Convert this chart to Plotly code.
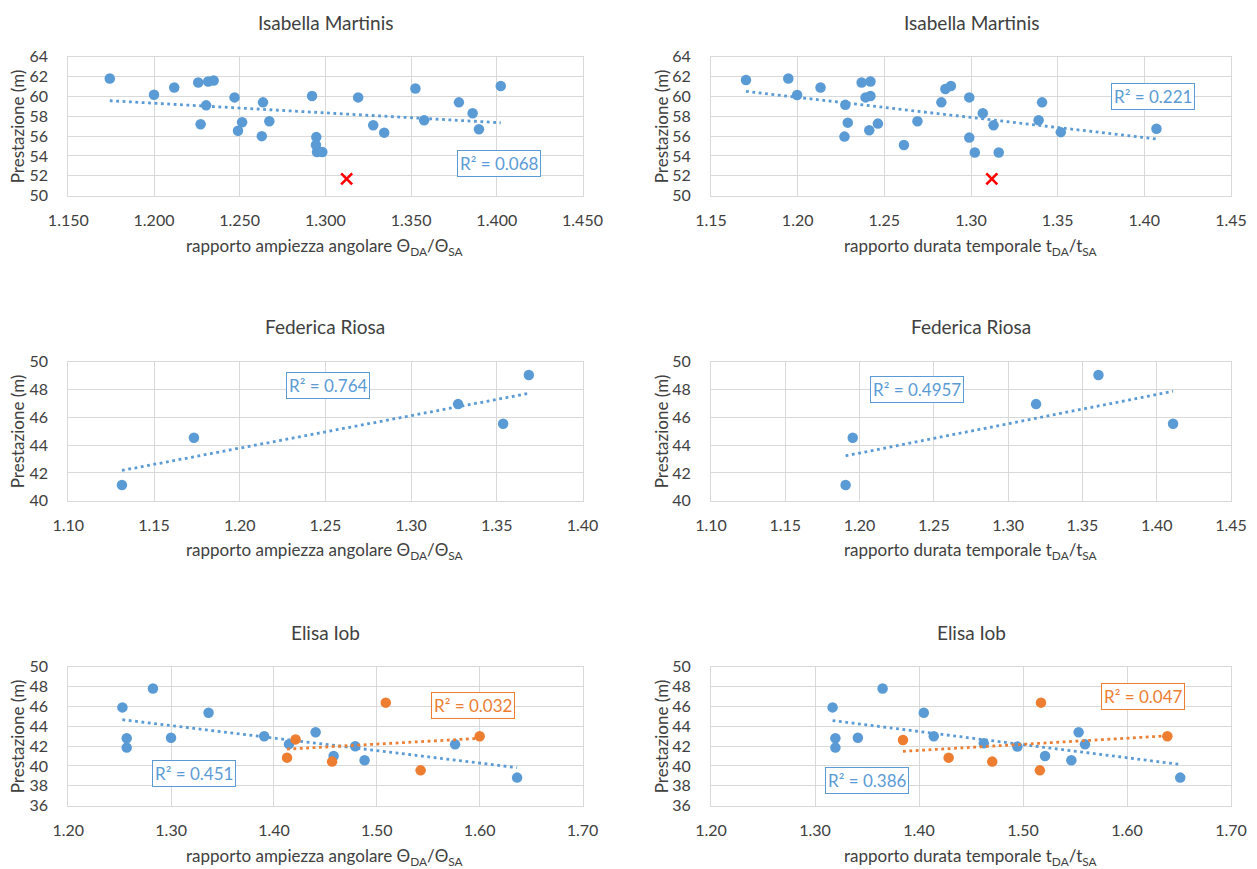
import numpy as np
import plotly.graph_objects as go

BLUE = "#5B9BD5"
ORANGE = "#ED7D31"
RED = "#FF0000"
TXT = "#404040"
FONT = "Lato"

# ---------------- data ----------------
# Isabella Martinis - rapporto ampiezza angolare
im_ang_x = [1.1742, 1.2000, 1.2118, 1.2258, 1.2272, 1.2304, 1.2316, 1.2348, 1.2470, 1.2490,
            1.2514, 1.2629, 1.2636, 1.2673, 1.2922, 1.2947, 1.2945, 1.2951, 1.2982, 1.3191,
            1.3279, 1.3343, 1.3525, 1.3576, 1.3779, 1.3859, 1.3896, 1.4023]
im_ang_y = [61.8, 60.17, 60.9, 61.4, 57.2, 59.1, 61.5, 61.6, 59.9, 56.55,
            57.4, 56.0, 59.4, 57.5, 60.05, 55.9, 55.1, 54.4, 54.4, 59.9,
            57.1, 56.35, 60.8, 57.6, 59.4, 58.3, 56.7, 61.05]
im_ang_out_x = [1.3124]
im_ang_out_y = [51.7]

# Isabella Martinis - rapporto durata temporale
im_dur_x = [1.1702, 1.1946, 1.1997, 1.2132, 1.2270, 1.2275, 1.2289, 1.2369, 1.2392, 1.2420,
            1.2420, 1.2413, 1.2463, 1.2613, 1.2691, 1.2829, 1.2852, 1.2884, 1.2990, 1.2990,
            1.3022, 1.3068, 1.3130, 1.3160, 1.3390, 1.3410, 1.3518, 1.4070]
im_dur_y = [61.66, 61.8, 60.15, 60.9, 55.95, 59.15, 57.36, 61.4, 59.9, 61.5,
            60.05, 56.6, 57.26, 55.1, 57.5, 59.4, 60.75, 61.05, 59.9, 55.85,
            54.35, 58.3, 57.1, 54.35, 57.6, 59.4, 56.4, 56.75]
im_dur_out_x = [1.312]
im_dur_out_y = [51.7]

# Federica Riosa
fr_ang_x = [1.1313, 1.1733, 1.3274, 1.3537, 1.3687]
fr_ang_y = [41.13, 44.53, 46.95, 45.54, 49.04]
fr_dur_x = [1.1906, 1.1954, 1.3188, 1.4110, 1.3608]
fr_dur_y = [41.13, 44.53, 46.95, 45.54, 49.04]

# Elisa Iob - blue series
ei_ang_x_b = [1.2526, 1.2823, 1.2568, 1.2568, 1.2999, 1.3364, 1.3905, 1.4146, 1.4405, 1.4580,
              1.4790, 1.4881, 1.5761, 1.6364]
ei_ang_y_b = [45.9, 47.8, 42.8, 41.85, 42.85, 45.37, 43.0, 42.2, 43.4, 41.0,
              41.98, 40.57, 42.18, 38.83]
ei_dur_x_b = [1.3169, 1.3650, 1.3196, 1.3196, 1.3412, 1.4046, 1.4142, 1.4623, 1.4946, 1.5212,
              1.5465, 1.5535, 1.5596, 1.6512]
ei_dur_y_b = [45.9, 47.8, 42.8, 41.85, 42.85, 45.37, 43.0, 42.28, 41.95, 41.0,
              40.57, 43.4, 42.18, 38.83]
# Elisa Iob - orange series
ei_ang_x_o = [1.4127, 1.4210, 1.4565, 1.5087, 1.5426, 1.6000]
ei_ang_y_o = [40.84, 42.68, 40.44, 46.38, 39.56, 42.99]
ei_dur_x_o = [1.3846, 1.4285, 1.4704, 1.5173, 1.5162, 1.6388]
ei_dur_y_o = [42.62, 40.84, 40.44, 46.38, 39.56, 43.0]

titles = ["Isabella Martinis", "Isabella Martinis", "Federica Riosa", "Federica Riosa",
          "Elisa Iob", "Elisa Iob"]
xtitle_ang = "rapporto ampiezza angolare Θ<sub>DA</sub>/Θ<sub>SA</sub>"
xtitle_dur = "rapporto durata temporale t<sub>DA</sub>/t<sub>SA</sub>"

r2_labels = {
    1: [("R² = 0.068", 1.401, 53.22, BLUE)],
    2: [("R² = 0.221", 1.405, 60.0, BLUE)],
    3: [("R² = 0.764", 1.2514, 48.28, BLUE)],
    4: [("R² = 0.4957", 1.2384, 47.98, BLUE)],
    5: [("R² = 0.451", 1.3227, 39.21, BLUE), ("R² = 0.032", 1.5933, 46.07, ORANGE)],
    6: [("R² = 0.386", 1.3502, 38.54, BLUE), ("R² = 0.047", 1.6152, 46.98, ORANGE)],
}

# ---------------- layout geometry ----------------
W, H = 1257, 869
col_px = [(68.3, 582.5), (711.0, 1231.0)]
row_px = [(56.7, 195.7), (361.7, 500.7), (666.7, 805.7)]
title_y = [23, 327, 632]
xtitle_y = [247, 551, 857]

xranges = {1: [1.15, 1.45], 2: [1.15, 1.45], 3: [1.10, 1.40], 4: [1.10, 1.45],
           5: [1.20, 1.70], 6: [1.20, 1.70]}
xdt = {1: 0.05, 2: 0.05, 3: 0.05, 4: 0.05, 5: 0.1, 6: 0.1}
xfmt = {1: ".3f", 2: ".2f", 3: ".2f", 4: ".2f", 5: ".2f", 6: ".2f"}
yranges = {1: [50, 64], 2: [50, 64], 3: [40, 50], 4: [40, 50], 5: [36, 50], 6: [36, 50]}

fig = go.Figure()


def add_series(i, xs, ys, color):
    xa = "x" if i == 1 else f"x{i}"
    ya = "y" if i == 1 else f"y{i}"
    xs_a = np.array(xs)
    ys_a = np.array(ys)
    k, b = np.polyfit(xs_a, ys_a, 1)
    lx = np.array([xs_a.min(), xs_a.max()])
    fig.add_trace(go.Scatter(x=lx, y=k * lx + b, mode="lines", xaxis=xa, yaxis=ya,
                             line=dict(color=color, width=2.8, dash="2.8px,3.6px"),
                             showlegend=False, hoverinfo="skip"))
    fig.add_trace(go.Scatter(x=xs, y=ys, mode="markers", xaxis=xa, yaxis=ya,
                             marker=dict(color=color, size=10.5, line=dict(width=0)),
                             showlegend=False))


def add_outlier(i, xs, ys):
    xa = "x" if i == 1 else f"x{i}"
    ya = "y" if i == 1 else f"y{i}"
    fig.add_trace(go.Scatter(x=xs, y=ys, mode="markers", xaxis=xa, yaxis=ya,
                             marker=dict(symbol="x-thin", size=11, color=RED,
                                         line=dict(color=RED, width=2.6)),
                             showlegend=False))


add_series(1, im_ang_x, im_ang_y, BLUE)
add_outlier(1, im_ang_out_x, im_ang_out_y)
add_series(2, im_dur_x, im_dur_y, BLUE)
add_outlier(2, im_dur_out_x, im_dur_out_y)
add_series(3, fr_ang_x, fr_ang_y, BLUE)
add_series(4, fr_dur_x, fr_dur_y, BLUE)
add_series(5, ei_ang_x_b, ei_ang_y_b, BLUE)
add_series(5, ei_ang_x_o, ei_ang_y_o, ORANGE)
add_series(6, ei_dur_x_b, ei_dur_y_b, BLUE)
add_series(6, ei_dur_x_o, ei_dur_y_o, ORANGE)

layout = dict(width=W, height=H, autosize=False, margin=dict(l=0, r=0, t=0, b=0, pad=0),
              paper_bgcolor="white", plot_bgcolor="white", template="none",
              font=dict(family=FONT, color=TXT, size=16), showlegend=False)

annotations = []
for i in range(1, 7):
    r = (i - 1) // 2
    c = (i - 1) % 2
    x0, x1 = col_px[c]
    y0, y1 = row_px[r]
    xd = [x0 / W, x1 / W]
    yd = [1 - y1 / H, 1 - y0 / H]
    xa_name = "xaxis" if i == 1 else f"xaxis{i}"
    ya_name = "yaxis" if i == 1 else f"yaxis{i}"
    ya_ref = "y" if i == 1 else f"y{i}"
    xa_ref = "x" if i == 1 else f"x{i}"
    layout[xa_name] = dict(domain=xd, anchor=ya_ref, range=xranges[i], dtick=xdt[i],
                           tick0=xranges[i][0], tickformat=xfmt[i], automargin=False,
                           showgrid=True, gridcolor="#d9d9d9", gridwidth=1,
                           zeroline=False, showline=True, linecolor="#d9d9d9",
                           linewidth=1, mirror=True, ticks="",
                           tickfont=dict(family=FONT, size=16, color=TXT),
                           ticklabelstandoff=10, fixedrange=True)
    layout[ya_name] = dict(domain=yd, anchor=xa_ref, range=yranges[i], dtick=2,
                           automargin=False,
                           showgrid=True, gridcolor="#d9d9d9", gridwidth=1,
                           zeroline=False, showline=True, linecolor="#d9d9d9",
                           linewidth=1, mirror=True, ticks="",
                           tickfont=dict(family=FONT, size=16, color=TXT),
                           ticklabelstandoff=16, fixedrange=True)
    cx = (x0 + x1) / 2 / W
    annotations.append(dict(text=titles[i - 1], xref="paper", yref="paper",
                            x=cx, y=1 - title_y[r] / H, xanchor="center", yanchor="middle",
                            showarrow=False, font=dict(family=FONT, size=19, color=TXT)))
    annotations.append(dict(text=xtitle_ang if c == 0 else xtitle_dur, xref="paper",
                            yref="paper", x=cx, y=1 - xtitle_y[r] / H, xanchor="center",
                            yanchor="middle", showarrow=False,
                            font=dict(family=FONT, size=17, color=TXT)))
    ytx = 17 if c == 0 else 661
    annotations.append(dict(text="Prestazione (m)", xref="paper", yref="paper",
                            x=ytx / W, y=1 - (y0 + y1) / 2 / H, xanchor="center",
                            yanchor="middle", textangle=-90, showarrow=False,
                            font=dict(family=FONT, size=17, color=TXT)))
    for (txt, ax, ay, col) in r2_labels[i]:
        annotations.append(dict(text=txt, xref=xa_ref, yref=ya_ref, x=ax, y=ay,
                                xanchor="center", yanchor="middle", showarrow=False,
                                font=dict(family=FONT, size=17, color=col),
                                bordercolor=col, borderwidth=1, borderpad=2,
                                bgcolor="white"))

layout["annotations"] = annotations
fig.update_layout(**layout)
fig.write_html("out.html")
